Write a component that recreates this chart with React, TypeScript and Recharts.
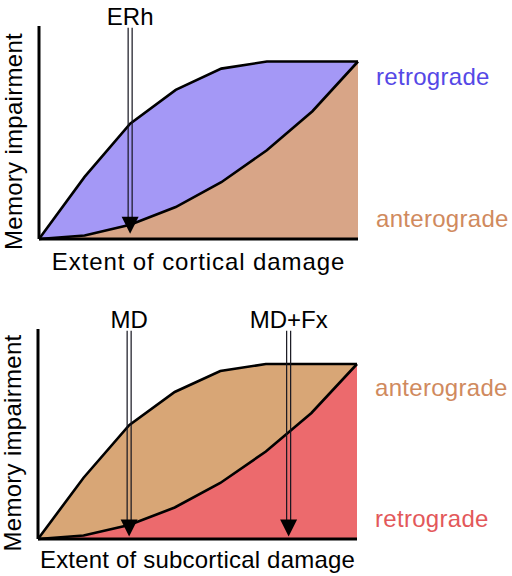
import React from 'react';
import { ComposedChart, Area, XAxis, YAxis, ReferenceLine, ReferenceDot, Label } from 'recharts';

// ---- data ----
const damageSteps = [0, 1, 2, 3, 4, 5, 6, 7];
const upperCurve = [0, 35, 65, 84, 96, 100, 100, 100];
const lowerCurve = [0, 2, 8, 18, 32, 50, 72, 100];

const corticalArrows = [{ x: 2, label: 'ERh' }];
const subcorticalArrows = [
  { x: 2, label: 'MD' },
  { x: 5.5, label: 'MD+Fx' },
];

const chartData = damageSteps.map((x, i) => ({ x, upper: upperCurve[i], lower: lowerCurve[i] }));

const FONT = '"Liberation Sans", Arial, Helvetica, sans-serif';

const ArrowShape = (props: any) => {
  const { x1, y1, y2 } = props;
  const top = Math.min(y1, y2);
  const tip = Math.max(y1, y2);
  const headH = 17;
  const headW = 8.5;
  return (
    <g>
      <line x1={x1 - 2} x2={x1 - 2} y1={top} y2={tip - headH + 2} stroke="#15151f" strokeWidth={1.2} />
      <line x1={x1 + 2} x2={x1 + 2} y1={top} y2={tip - headH + 2} stroke="#15151f" strokeWidth={1.2} />
      <polygon points={`${x1 - headW},${tip - headH} ${x1 + headW},${tip - headH} ${x1},${tip}`} fill="#000" />
    </g>
  );
};

type PanelProps = {
  xLabel: string;
  upperFill: string;
  lowerFill: string;
  upperText: string;
  upperColor: string;
  lowerText: string;
  lowerColor: string;
  upperTextY: number;
  lowerTextY: number;
  arrows: { x: number; label: string }[];
  arrowTip: number;
  margin: { top: number; right: number; bottom: number; left: number };
  xLabelGap: number;
  xLetterSpacing: number;
};

const Panel = (p: PanelProps) => {
  const xLabelContent = (props: any) => {
    const vb = props.viewBox || {};
    return (
      <text
        x={vb.x + vb.width / 2}
        y={vb.y + p.xLabelGap}
        textAnchor="middle"
        fontSize={24}
        fill="#000"
        style={{ letterSpacing: p.xLetterSpacing }}
      >
        Extent of {p.xLabel} damage
      </text>
    );
  };
  const yLabelContent = (props: any) => {
    const vb = props.viewBox || {};
    const cx = vb.x + vb.width - 17;
    const cy = vb.y + vb.height / 2 + 9;
    return (
      <text
        x={cx}
        y={cy}
        textAnchor="middle"
        fontSize={24}
        fill="#000"
        style={{ letterSpacing: 0.3 }}
        transform={`rotate(-90, ${cx}, ${cy})`}
      >
        Memory impairment
      </text>
    );
  };
  const sideLabel = (text: string, color: string) => (props: any) => {
    const vb = props.viewBox || {};
    return (
      <text x={vb.x + 18} y={vb.y} fontSize={24} fill={color} textAnchor="start" style={{ letterSpacing: 0.3 }}>
        {text}
      </text>
    );
  };
  return (
    <ComposedChart width={512} height={288} data={chartData} margin={p.margin} style={{ fontFamily: FONT }}>
      <Area type="linear" dataKey="upper" stroke="#000" strokeWidth={2.6} fill={p.upperFill} fillOpacity={1} dot={false} activeDot={false} isAnimationActive={false} />
      <Area type="linear" dataKey="lower" stroke="#000" strokeWidth={2.6} fill={p.lowerFill} fillOpacity={1} dot={false} activeDot={false} isAnimationActive={false} />
      <XAxis dataKey="x" type="number" domain={[0, 7]} ticks={[]} tick={false} tickLine={false} height={1} axisLine={{ stroke: '#000', strokeWidth: 3 }}>
        <Label content={xLabelContent} />
      </XAxis>
      <YAxis type="number" domain={[0, 120]} ticks={[]} tick={false} tickLine={false} width={1} axisLine={{ stroke: '#000', strokeWidth: 3 }}>
        <Label content={yLabelContent} />
      </YAxis>
      {p.arrows.map((a) => (
        <ReferenceLine
          key={a.label}
          segment={[{ x: a.x, y: 119 }, { x: a.x, y: p.arrowTip }]}
          ifOverflow="visible"
          shape={ArrowShape}
          label={{ value: a.label, position: 'top', offset: 3, fontSize: 24, fill: '#000' }}
        />
      ))}
      <ReferenceDot x={7} y={p.upperTextY} r={0} ifOverflow="visible" fill="none" stroke="none" label={<Label content={sideLabel(p.upperText, p.upperColor)} />} />
      <ReferenceDot x={7} y={p.lowerTextY} r={0} ifOverflow="visible" fill="none" stroke="none" label={<Label content={sideLabel(p.lowerText, p.lowerColor)} />} />
    </ComposedChart>
  );
};

export default function App() {
  return (
    <div style={{ position: 'absolute', left: 0, top: 0, width: 512, height: 576, background: '#fff', fontFamily: FONT }}>
      <Panel
        xLabel="cortical"
        upperFill="#a498f6"
        lowerFill="#d8a587"
        upperText="retrograde"
        upperColor="#5548e6"
        lowerText="anterograde"
        lowerColor="#d08a5e"
        upperTextY={87}
        lowerTextY={7}
        arrows={corticalArrows}
        arrowTip={3}
        margin={{ top: 26, right: 154, bottom: 48, left: 38 }}
        xLabelGap={31}
        xLetterSpacing={0.9}
      />
      <Panel
        xLabel="subcortical"
        upperFill="#d8a676"
        lowerFill="#ec6a6d"
        upperText="anterograde"
        upperColor="#d08a5e"
        lowerText="retrograde"
        lowerColor="#e3585a"
        upperTextY={82}
        lowerTextY={7}
        arrows={subcorticalArrows}
        arrowTip={1.5}
        margin={{ top: 41, right: 155, bottom: 36, left: 37 }}
        xLabelGap={29}
        xLetterSpacing={0.2}
      />
    </div>
  );
}
